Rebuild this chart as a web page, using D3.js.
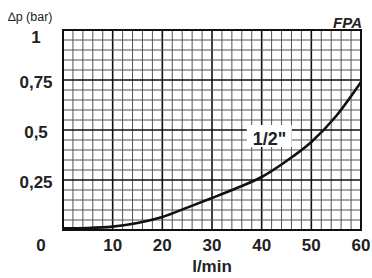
<!DOCTYPE html>
<html>
<head>
<meta charset="utf-8">
<script src="https://cdn.jsdelivr.net/npm/d3@7"></script>
<style>
  body { margin: 0; background: #fff; }
  svg { display: block; font-family: "Liberation Sans", Arial, sans-serif; }
</style>
</head>
<body>
<div id="chart"></div>
<script>
// flow (l/min) vs pressure drop (bar)
var flow = [0, 5, 10, 15, 20, 25, 30, 35, 40, 45, 50, 55, 60];
var dp = [0.008, 0.01, 0.017, 0.035, 0.065, 0.112, 0.16, 0.21, 0.265, 0.345, 0.44, 0.57, 0.74];
var xTicks = [10, 20, 30, 40, 50, 60];
var yTicks = [0.25, 0.5, 0.75, 1];
var yLabels = ["0,25", "0,5", "0,75", "1"];

var width = 372, height = 278;
var margin = {top: 30, right: 11, bottom: 48, left: 63};
var w = width - margin.left - margin.right;
var h = height - margin.top - margin.bottom;

var svg = d3.select('#chart').append('svg')
  .attr('width', width)
  .attr('height', height);

var x = d3.scaleLinear().domain([0, 60]).range([margin.left, margin.left + w]);
var y = d3.scaleLinear().domain([0, 1]).range([margin.top + h, margin.top]);

// grid: minor every 2 l/min and 0.05 bar, major every 10 / 0.25
var g = svg.append('g');
d3.range(0, 61, 2).forEach(function(v) {
  var major = v % 10 === 0;
  g.append('line')
    .attr('x1', x(v)).attr('x2', x(v))
    .attr('y1', y(0)).attr('y2', y(1))
    .attr('stroke', major ? '#111' : '#555')
    .attr('stroke-width', major ? 1.6 : 1);
});
d3.range(0, 21).forEach(function(i) {
  var v = i * 0.05;
  var major = i % 5 === 0;
  g.append('line')
    .attr('x1', x(0)).attr('x2', x(60))
    .attr('y1', y(v)).attr('y2', y(v))
    .attr('stroke', major ? '#111' : '#555')
    .attr('stroke-width', major ? 1.6 : 1);
});
svg.append('rect')
  .attr('x', x(0)).attr('y', y(1))
  .attr('width', w).attr('height', h)
  .attr('fill', 'none').attr('stroke', '#111').attr('stroke-width', 2);

// curve
var line = d3.line()
  .x(function(d, i) { return x(flow[i]); })
  .y(function(d) { return y(d); })
  .curve(d3.curveMonotoneX);
svg.append('path')
  .datum(dp)
  .attr('d', line)
  .attr('fill', 'none')
  .attr('stroke', '#111')
  .attr('stroke-width', 2.6);

// curve label
svg.append('rect')
  .attr('x', x(37)).attr('y', y(0.525))
  .attr('width', 45).attr('height', 22)
  .attr('fill', '#fff');
svg.append('text')
  .attr('x', x(41.6)).attr('y', y(0.42) - 1)
  .attr('text-anchor', 'middle')
  .attr('font-size', 18).attr('font-weight', 'bold').attr('fill', '#222')
  .text('1/2"');

// axis labels
svg.selectAll('.ylab')
  .data(yTicks)
  .enter().append('text')
  .attr('class', 'ylab')
  .attr('x', 36)
  .attr('y', function(d) { return d === 1 ? y(d) + 13 : y(d) + 8; })
  .attr('text-anchor', 'middle')
  .attr('font-size', 17).attr('font-weight', 'bold').attr('fill', '#222')
  .text(function(d, i) { return yLabels[i]; });

svg.selectAll('.xlab')
  .data(xTicks)
  .enter().append('text')
  .attr('class', 'xlab')
  .attr('x', function(d) { return x(d); })
  .attr('y', 251)
  .attr('text-anchor', 'middle')
  .attr('font-size', 17).attr('font-weight', 'bold').attr('fill', '#222')
  .text(function(d) { return d; });

svg.append('text')
  .attr('x', 41).attr('y', 251)
  .attr('text-anchor', 'middle')
  .attr('font-size', 17).attr('font-weight', 'bold').attr('fill', '#222')
  .text('0');

svg.append('text')
  .attr('x', 212).attr('y', 272)
  .attr('text-anchor', 'middle')
  .attr('font-size', 17).attr('font-weight', 'bold').attr('fill', '#222')
  .text('l/min');

svg.append('text')
  .attr('x', 8).attr('y', 21)
  .attr('font-size', 12.5).attr('fill', '#222')
  .text('\u2206p (bar)');

svg.append('text')
  .attr('x', 362).attr('y', 28)
  .attr('text-anchor', 'end')
  .attr('font-size', 15).attr('font-weight', 'bold').attr('font-style', 'italic').attr('fill', '#222')
  .text('FPA');
</script>
</body>
</html>
